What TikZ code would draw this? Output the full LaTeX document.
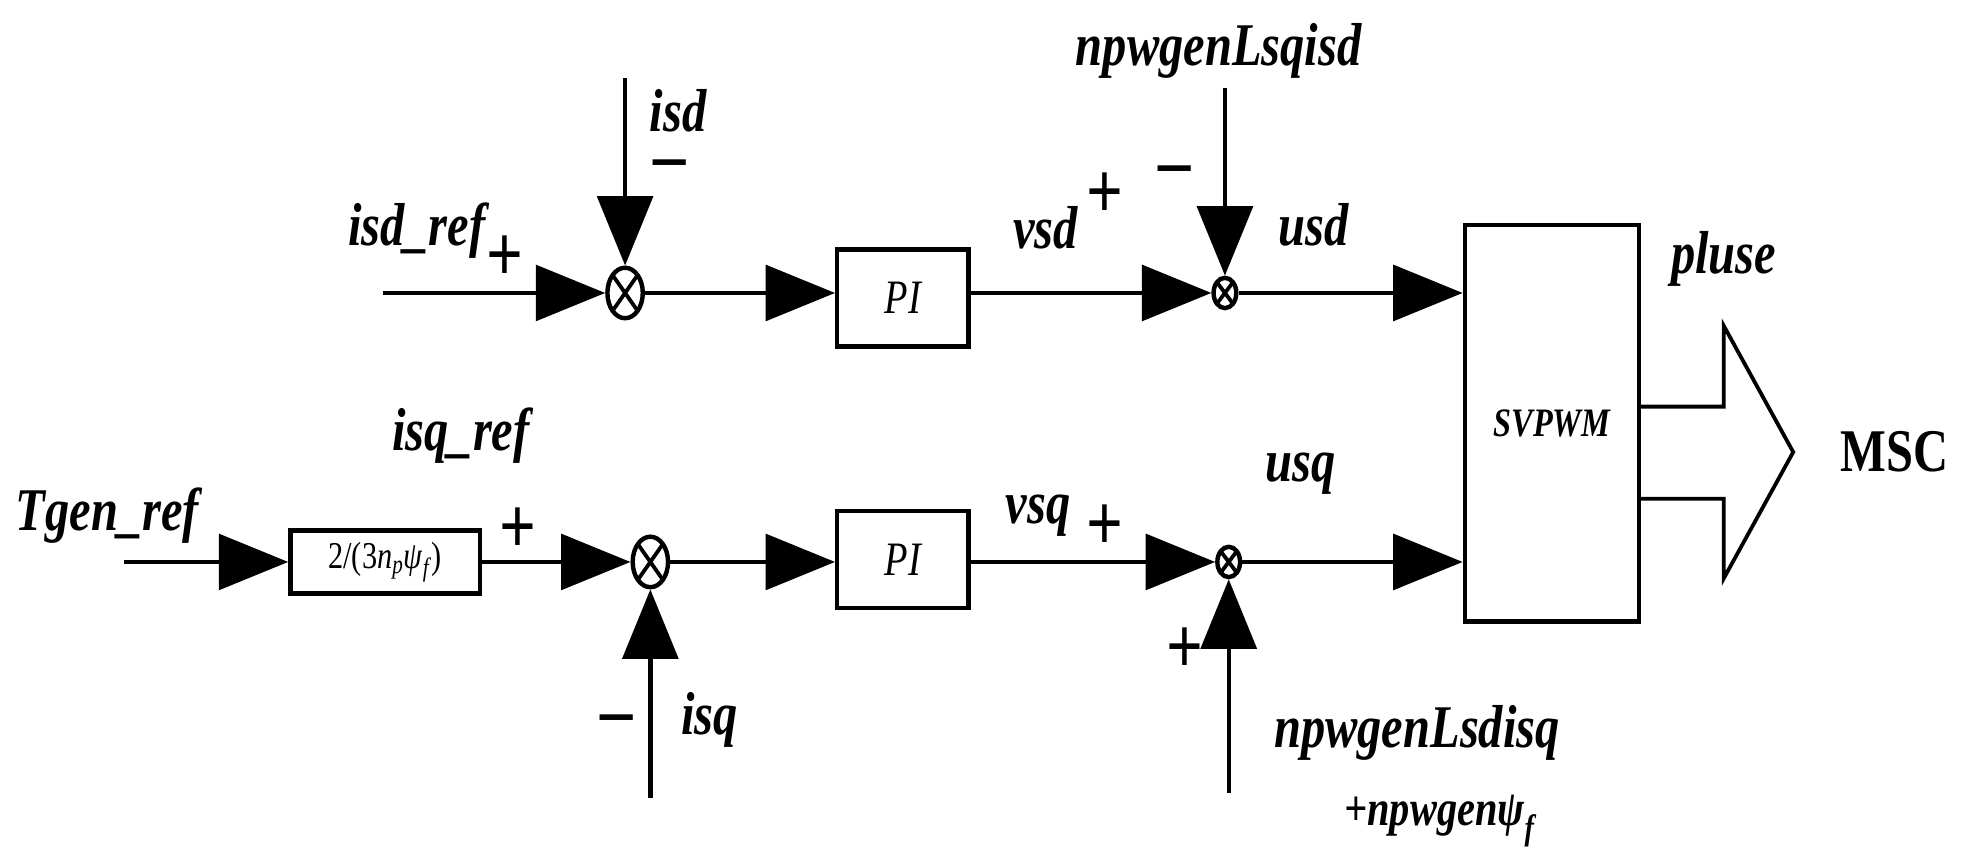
\documentclass[tikz,border=0pt]{standalone}
\usepackage{fontspec}
\setmainfont[FakeStretch=0.8]{Liberation Serif}
\usetikzlibrary{arrows.meta,shapes.geometric,shapes.arrows}
\begin{document}
\begin{tikzpicture}[x=1pt,y=-1pt,line width=3.5pt,
 big/.style={-{Triangle[length=55pt,width=44pt]}},
 lab/.style={font=\fontsize{48}{52}\selectfont\bfseries\itshape,inner sep=0},
 sgn/.style={font=\fontsize{64}{64}\selectfont\bfseries\upshape,inner sep=0},
 blk/.style={draw,minimum width=104pt,minimum height=77pt,inner sep=0,font=\fontsize{38}{40}\selectfont\itshape},
 sumb/.style={draw,ellipse,minimum width=28pt,minimum height=40pt,inner sep=0,
   path picture={\draw[line width=3pt] (path picture bounding box.north west)--(path picture bounding box.south east)
   (path picture bounding box.south west)--(path picture bounding box.north east);}},
 sums/.style={sumb,minimum width=18pt,minimum height=24pt}]
\useasboundingbox (0,0) rectangle (1560,684);
% top row
\coordinate (a0) at (303,232);
\node[sumb] (s1) at (495,232) {};
\node[blk] (pi1) at (715,236) {PI};
\node[sums] (s2) at (970,232) {};
\node[draw,minimum width=138pt,minimum height=314pt,inner sep=0] (sv) at (1229,335) {};
\node[font=\fontsize{32}{34}\selectfont\bfseries\itshape] at (sv) {SVPWM};
\coordinate (t1) at (495,62);
\coordinate (t2) at (970,70);
\draw[big] (a0) -- (s1.west);
\draw[big] (t1) -- (s1.north);
\draw[big] (s1.east) -- (pi1.west |- s1);
\draw[big] (pi1.east |- s2) -- (s2.west);
\draw[big] (t2) -- (s2.north);
\draw[big] (s2.east) -- (sv.west |- s2);
\node[lab] at (330,183) {isd\_ref};
\node[sgn] at (400,205) {+};
\node[lab] at (537,88) {isd};
\node[sgn] at (530,135) {--};
\node[lab] at (828,180) {vsd};
\node[sgn] at (875,155) {+};
\node[lab] at (965,40) {npwgenLsqisd};
\node[sgn] at (930,140) {--};
\node[lab] at (1040,178) {usd};
\node[lab] at (1365,205) {pluse};
% hollow arrow
\draw[line width=3pt] (1298,322) -- (1365,322) -- (1365,258) -- (1420,358) -- (1365,458) -- (1365,395) -- (1298,395);
\node[font=\fontsize{48}{48}\selectfont\bfseries] at (1500,358) {MSC};
% bottom row
\coordinate (b0) at (98,445);
\node[draw,minimum width=150pt,minimum height=50pt,inner sep=0,font=\fontsize{30}{32}\selectfont] (g) at (305,445) {2/(3\textit{n}\textsubscript{\textit{p}}\textit{ψ}\textsubscript{\textit{f}})};
\node[sumb] (s3) at (515,445) {};
\node[blk] (pi2) at (715,443) {PI};
\node[sums] (s4) at (973,445) {};
\coordinate (t3) at (515,632);
\coordinate (t4) at (973,628);
\draw[big] (b0) -- (g.west);
\draw[big] (g.east) -- (s3.west);
\draw[big] (s3.east) -- (pi2.west |- s3);
\draw[big] (pi2.east |- s4) -- (s4.west);
\draw[big] (t3) -- (s3.south);
\draw[big] (t4) -- (s4.south);
\draw[big] (s4.east) -- (sv.west |- s4);
\node[lab] at (85,408) {Tgen\_ref};
\node[lab] at (365,345) {isq\_ref};
\node[sgn] at (410,420) {+};
\node[lab] at (822,408) {vsq};
\node[sgn] at (875,418) {+};
\node[lab] at (1030,375) {usq};
\node[sgn] at (488,575) {--};
\node[lab] at (562,570) {isq};
\node[sgn] at (938,515) {+};
\node[lab] at (1122,580) {npwgenLsdisq};
\node[lab,font=\fontsize{40}{42}\selectfont\bfseries\itshape] at (1140,650) {+npwgen\textit{ψ}\textsubscript{\textit{f}}};
\end{tikzpicture}
\end{document}
